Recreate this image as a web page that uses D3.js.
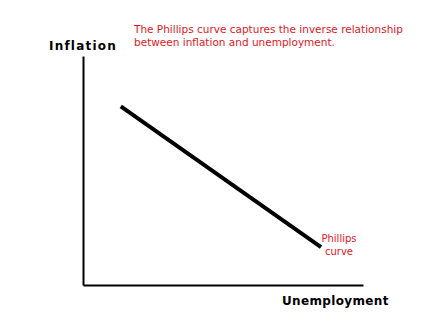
<!DOCTYPE html>
<html>
<head>
<meta charset="utf-8">
<script src="https://cdn.jsdelivr.net/npm/d3@7"></script>
<style>
  body { margin: 0; background: #fff; }
  svg { display: block; }
</style>
</head>
<body>
<div id="chart"></div>
<script>
"use strict";

// Phillips curve sketch, no ticks, just the axes and a straight line
var svgWidth = 447;
var svgHeight = 331;

// curve end points (axis units 0-10)
var curveX = [1.35, 8.5];
var curveY = [7.8, 1.65];

var axisLabels = ["Inflation", "Unemployment"];
var noteLines = ["The Phillips curve captures the inverse relationship",
                 "between inflation and unemployment."];
var curveLabel = ["Phillips", "curve"];

var RED = "#e3161e";

var svg = d3.select("#chart")
    .append("svg")
    .attr("width", svgWidth)
    .attr("height", svgHeight);

var x = d3.scaleLinear().domain([0, 10]).range([83, 363]);
var y = d3.scaleLinear().domain([0, 10]).range([285, 56]);

// axes drawn with d3 axis, ticks switched off
svg.append("g")
    .attr("transform", "translate(0," + y(0) + ")")
    .call(d3.axisBottom(x).tickValues([]).tickSizeOuter(0))
    .select(".domain")
    .attr("stroke", "#000")
    .attr("stroke-width", 2);

svg.append("g")
    .attr("transform", "translate(" + x(0) + ",0)")
    .call(d3.axisLeft(y).tickValues([]).tickSizeOuter(0))
    .select(".domain")
    .attr("stroke", "#000")
    .attr("stroke-width", 2);

var pts = curveX.map(function(d, i) { return [d, curveY[i]]; });

svg.append("path")
    .datum(pts)
    .attr("fill", "none")
    .attr("stroke", "#000")
    .attr("stroke-width", 4)
    .attr("d", d3.line()
        .x(function(d) { return x(d[0]); })
        .y(function(d) { return y(d[1]); }));

// axis titles
svg.append("text")
    .attr("x", 49).attr("y", 50)
    .attr("font-family", "DejaVu Sans")
    .attr("font-weight", "bold")
    .attr("font-size", 12)
    .attr("letter-spacing", 1.2)
    .text(axisLabels[0]);

svg.append("text")
    .attr("x", 282).attr("y", 305)
    .attr("font-family", "DejaVu Sans")
    .attr("font-weight", "bold")
    .attr("font-size", 12)
    .attr("letter-spacing", 0.35)
    .text(axisLabels[1]);

// red note
svg.selectAll(".note")
    .data(noteLines)
    .enter().append("text")
    .attr("class", "note")
    .attr("x", 134)
    .attr("y", function(d, i) { return 33 + i * 12.5; })
    .attr("font-family", "DejaVu Sans")
    .attr("font-size", 10.5)
    .attr("fill", RED)
    .text(function(d) { return d; });

// label at end of the curve
svg.selectAll(".clabel")
    .data(curveLabel)
    .enter().append("text")
    .attr("class", "clabel")
    .attr("x", 339)
    .attr("y", function(d, i) { return 242 + i * 13; })
    .attr("text-anchor", "middle")
    .attr("font-family", "DejaVu Sans")
    .attr("font-size", 10)
    .attr("fill", RED)
    .text(function(d) { return d; });
</script>
</body>
</html>
